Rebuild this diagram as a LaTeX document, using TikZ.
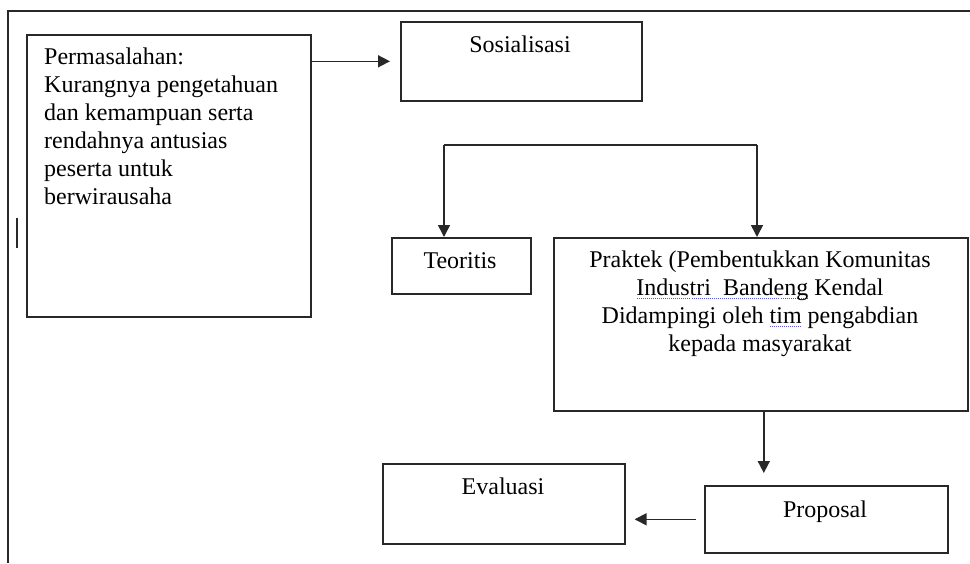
\documentclass[tikz,border=0pt]{standalone}
\usepackage{fontspec}
\setmainfont{Liberation Serif}
\usepackage{tikz}
\usetikzlibrary{positioning, arrows.meta, calc}
\definecolor{inkline}{RGB}{40,40,40}
\definecolor{spellblue}{RGB}{90,90,210}
\newsavebox{\spellbox}
\newcommand{\spellmark}[1]{\leavevmode\sbox{\spellbox}{#1}%
  \rlap{\raisebox{-3pt}{\color{spellblue}\hbox to \wd\spellbox{\xleaders\hbox to 2pt{\hss\rule{1pt}{0.7pt}\hss}\hfill}}}%
  \usebox{\spellbox}}
\tikzset{
  box/.style={
    rectangle, draw=inkline, line width=1.6pt,
    inner sep=0pt, anchor=north west
  },
  boxtext/.style={inner sep=0pt, font=\fontsize{24}{28}\selectfont},
  link/.style={draw=inkline, line width=1.6pt},
  flow/.style={link, -{Triangle[length=12pt,width=12pt]}},
}
\begin{document}
\begin{tikzpicture}[x=1pt, y=-1pt]
  \useasboundingbox (0,0) rectangle (970,563);
  \draw[draw=inkline, line width=2pt] (970,11) -- (8,11) -- (8,563);
  \draw[draw=inkline, line width=1.4pt] (17,218) -- (17,248);

  \node[box, minimum width=284pt, minimum height=282pt] (masalah) at (26,34) {};
  \node[boxtext, anchor=north west, align=left] (masalah-txt) at (44,48)
    {Permasalahan:\\ Kurangnya pengetahuan\\ dan kemampuan serta\\
     rendahnya antusias\\ peserta untuk\\ berwirausaha};

  \node[box, minimum width=241pt, minimum height=79pt] (sosial) at (400,21) {};
  \node[boxtext, anchor=base] (sosial-txt) at (520,52) {Sosialisasi};

  \node[box, minimum width=139pt, minimum height=56pt] (teori) at (391,237) {};
  \node[boxtext, anchor=base] (teori-txt) at (460,268) {Teoritis};

  \node[box, minimum width=414pt, minimum height=173pt] (praktek) at (553,237) {};
  \node[boxtext, anchor=north, align=center] (praktek-txt) at (760,251)
    {Praktek (Pembentukkan Komunitas\\ \spellmark{Industri\ \ Bandeng} Kendal\\
     Didampingi oleh \spellmark{tim} pengabdian\\ kepada masyarakat};

  \node[box, minimum width=243pt, minimum height=67pt] (proposal) at (704,485) {};
  \node[boxtext, anchor=base] (proposal-txt) at (825,517) {Proposal};

  \node[box, minimum width=242pt, minimum height=80pt] (evaluasi) at (382,463) {};
  \node[boxtext, anchor=base] (evaluasi-txt) at (503,494) {Evaluasi};

  \draw[flow, shorten >=10pt] (sosial.west -| masalah.east) -- (sosial.west);

  \coordinate (forkL) at (444,145);
  \coordinate (forkR) at (757,145);
  \draw[link] (forkL) -- (forkR);
  \draw[flow] (forkL) -- (forkL |- teori.north);
  \draw[flow] (forkR) -- (forkR |- praktek.north);

  \draw[flow, shorten >=12pt] ([xshift=3pt]praktek.south) -- ([xshift=3pt]praktek.south |- proposal.north);
  \draw[flow, shorten <=8pt, shorten >=9pt] (proposal.west) -- (proposal.west -| evaluasi.east);
\end{tikzpicture}
\end{document}
